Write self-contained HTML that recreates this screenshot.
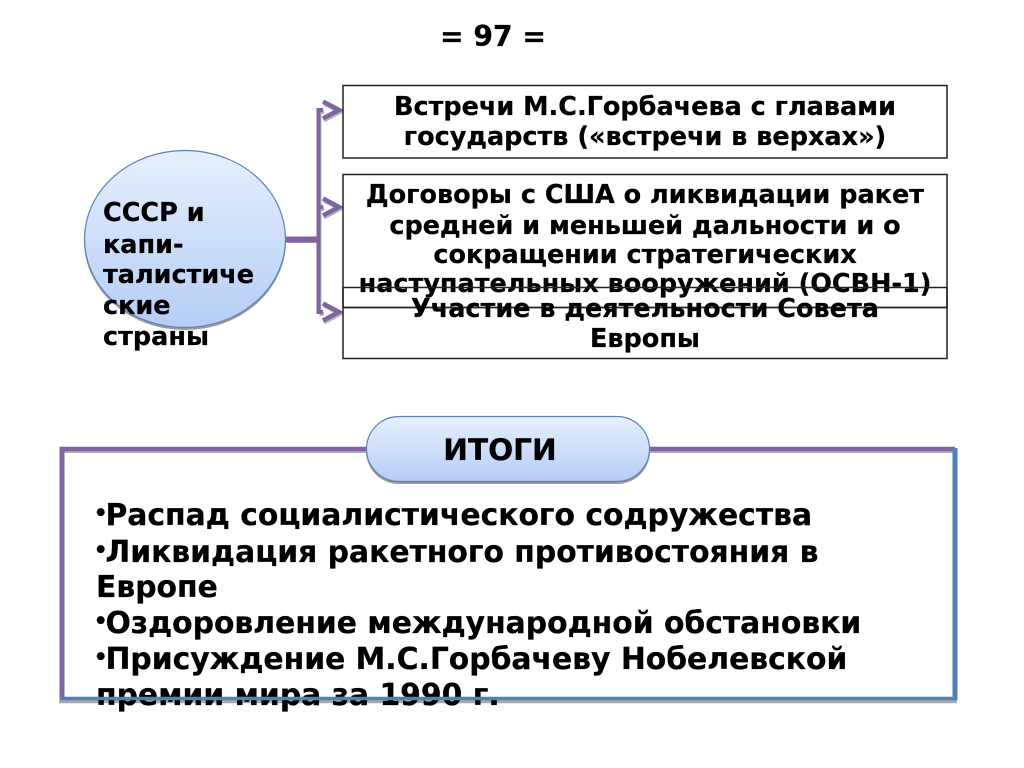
<!DOCTYPE html>
<html><head><meta charset="utf-8">
<style>
html,body{margin:0;padding:0;background:#fff}
svg{display:block}
text{font-family:"DejaVu Sans",sans-serif;font-weight:bold;fill:#000;stroke:#000;stroke-width:.25px}
.a{font-size:25.5px;text-anchor:middle}
.c{font-size:25.5px}
.b{font-size:29.8px}
.d{font-family:"Liberation Sans",sans-serif;font-size:27px}
</style></head><body>
<svg width="1024" height="768" viewBox="0 0 1024 768" xmlns="http://www.w3.org/2000/svg">
<defs>
<linearGradient id="g" x1="0" y1="0" x2="0" y2="1"><stop offset="0" stop-color="#e6f0fd"/><stop offset="1" stop-color="#b5cdf5"/></linearGradient>
</defs>
<text x="493" y="46" text-anchor="middle" style="font-size:28.2px">= 97 =</text>

<!-- connector shadow -->
<g fill="none" stroke="#b4b4ba" stroke-width="4" transform="translate(1,2)">
<path d="M286 239H318M318.500 110V312M318.500 110H323M318.500 207H323M318.500 312H323"/>
<path d="M323 101.500L339 110L323 118.500M323 198.500L339 207L323 215.500M323 303.500L339 312L323 320.500"/>
</g>
<g fill="none" stroke="#8064a2">
<path d="M286 239.500H318" stroke-width="6"/>
<path d="M318.500 108V314M318.500 110H323M318.500 207H323M318.500 312H323" stroke-width="4"/>
<path d="M323 101.500L339 110L323 118.500M323 198.500L339 207L323 215.500M323 303.500L339 312L323 320.500" stroke-width="4.500"/>
</g>

<!-- boxes -->
<g fill="#fff" stroke="#222" stroke-width="1.500">
<rect x="343" y="85.500" width="604" height="72.500"/>
<rect x="343" y="174.500" width="604" height="133"/>
</g>
<text class="a" x="645" y="115">Встречи М.С.Горбачева с главами</text>
<text class="a" x="645" y="145">государств («встречи в верхах»)</text>
<text class="a" x="645" y="203">Договоры с США о ликвидации ракет</text>
<text class="a" x="645" y="234">средней и меньшей дальности и о</text>
<text class="a" x="645" y="263">сокращении стратегических</text>
<text class="a" x="645" y="292">наступательных вооружений (ОСВН-1)</text>
<rect x="343" y="287.500" width="604" height="71" fill="none" stroke="#222" stroke-width="1.500"/>
<line x1="343" y1="307.500" x2="947" y2="307.500" stroke="#222" stroke-width="1.500"/>
<text class="a" x="645" y="317">Участие в деятельности Совета</text>
<text class="a" x="645" y="347">Европы</text>

<!-- ellipse -->
<ellipse cx="185" cy="241" rx="101" ry="89" fill="#9a9a9a"/>
<ellipse cx="185" cy="239" rx="100.500" ry="88.500" fill="url(#g)" stroke="#5b83b5" stroke-width="1.200"/>
<text class="c" x="103" y="221">СССР и</text>
<text class="c" x="103" y="253">капи-</text>
<text class="c" x="103" y="283">талистиче</text>
<text class="c" x="103" y="314">ские</text>
<text class="c" x="103" y="345">страны</text>

<!-- bottom frame -->
<path d="M59 701.500H957" stroke="#a8a8a8" stroke-width="3.500" fill="none"/>
<path d="M62 451.500H954" stroke="#b0b0b0" stroke-width="3" fill="none"/>
<path d="M59.500 449H955" stroke="#8064a2" stroke-width="4.500" fill="none"/>
<path d="M62 447V699" stroke="#8064a2" stroke-width="5" fill="none"/>
<path d="M955 448V700" stroke="#4f81bd" stroke-width="5" fill="none"/>

<!-- pill -->
<rect x="366" y="418" width="284" height="66" rx="33" ry="33" fill="#9a9a9a"/>
<rect x="366.500" y="416.500" width="283" height="65" rx="32.500" ry="32.500" fill="url(#g)" stroke="#5b83b5" stroke-width="1.200"/>
<text x="500" y="460" text-anchor="middle" style="font-size:29.500px">ИТОГИ</text>

<!-- bottom text -->
<text class="b" x="96" y="525"><tspan class="d" dy="-4">•</tspan><tspan dy="4">Распад социалистического содружества</tspan></text>
<text class="b" x="96" y="562"><tspan class="d" dy="-4">•</tspan><tspan dy="4">Ликвидация ракетного противостояния в</tspan></text>
<text class="b" x="96" y="597">Европе</text>
<text class="b" x="96" y="633"><tspan class="d" dy="-4">•</tspan><tspan dy="4">Оздоровление международной обстановки</tspan></text>
<text class="b" x="96" y="669"><tspan class="d" dy="-4">•</tspan><tspan dy="4">Присуждение М.С.Горбачеву Нобелевской</tspan></text>
<text class="b" x="96" y="705">премии мира за 1990 г.</text>
<path d="M60 698.500H957" stroke="#4f81bd" stroke-width="3.500" fill="none"/>
</svg>
</body></html>
